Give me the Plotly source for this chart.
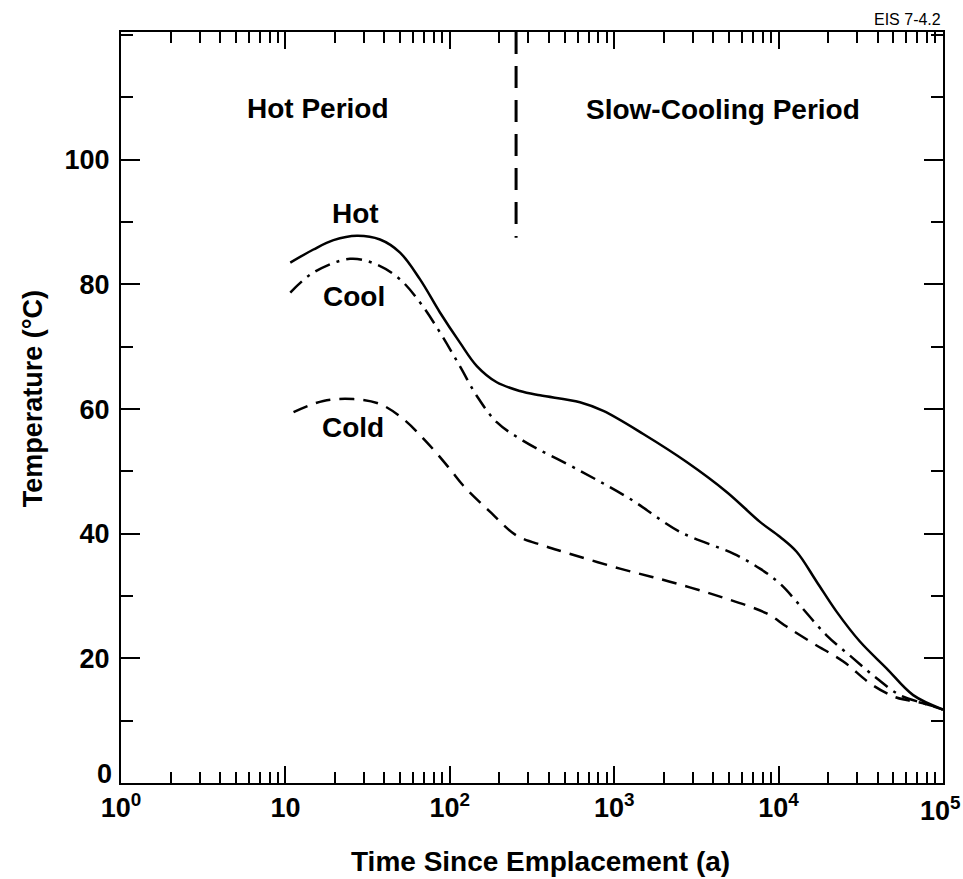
import math
import plotly.graph_objects as go

# ---- data ----
hot_t = [10.7, 14.8, 19.6, 27.2, 37.6, 49.8, 65.9, 87.1, 115, 146, 193, 267, 354, 619, 859,
         1503, 2761, 4831, 7709, 10190, 12880, 17060, 22540, 31260, 45390, 65920, 100000]
hot_T = [83.5, 85.6, 87.1, 87.8, 87.2, 85.1, 80.8, 75.5, 70.7, 66.9, 64.3, 62.9, 62.2, 61.1, 59.7,
         56.0, 51.5, 46.7, 41.9, 39.5, 37.1, 32.3, 27.5, 22.7, 18.4, 14.1, 11.8]

cool_t = [10.7, 14.8, 24.7, 35.9, 49.8, 65.9, 87.1, 115, 146, 193, 280, 619, 1247, 2512,
          5309, 7709, 10190, 13490, 19590, 28440, 39540, 54700, 75860, 100000]
cool_T = [78.7, 81.9, 84.1, 83.2, 80.8, 77.1, 72.3, 66.9, 62.1, 57.9, 54.9, 50.1, 45.6, 40.3,
          36.8, 34.4, 32.0, 28.5, 23.7, 20.0, 16.8, 14.1, 12.8, 11.8]

cold_t = [11.2, 17.0, 25.9, 37.6, 52.1, 72.3, 100, 121, 176, 255, 371, 490, 1084, 2183, 4406,
          8472, 11190, 16250, 24770, 35970, 49890, 60120, 75860, 100000]
cold_T = [59.5, 61.3, 61.6, 60.8, 58.4, 54.7, 50.4, 47.7, 43.5, 39.7, 38.1, 37.1, 34.4, 32.3, 29.9,
          27.2, 25.1, 22.4, 19.5, 16.0, 13.9, 13.3, 12.8, 11.8]

boundary_t = [253, 253]
boundary_T = [120.5, 87.5]

x_tickvals = [1, 10, 100, 1000, 10000, 100000]
x_ticktext = ["10<sup>0</sup>", "10", "10<sup>2</sup>", "10<sup>3</sup>", "10<sup>4</sup>", "10<sup>5</sup>"]
y_tickvals = [0, 20, 40, 60, 80, 100]
y_ticktext = ["0", "20", "40", "60", "80", "100"]

FONT = "Liberation Sans"
BOLD = dict(family=FONT, size=27, color="black", weight="bold")

fig = go.Figure()
fig.add_trace(go.Scatter(x=hot_t, y=hot_T, mode="lines", line=dict(color="black", width=2.5, shape="spline")))
fig.add_trace(go.Scatter(x=cool_t, y=cool_T, mode="lines",
                         line=dict(color="black", width=2.5, shape="spline", dash="16px,7px,3px,7px")))
fig.add_trace(go.Scatter(x=cold_t, y=cold_T, mode="lines",
                         line=dict(color="black", width=2.5, shape="spline", dash="15px,9px")))
fig.add_trace(go.Scatter(x=boundary_t, y=boundary_T, mode="lines",
                         line=dict(color="black", width=3, dash="22px,12px")))

def ann(x, y, text, size=28, **kw):
    fig.add_annotation(x=x, y=y, text=text, showarrow=False,
                       font=dict(family=FONT, size=size, color="black", weight="bold"), **kw)

ann(math.log10(26.5), 91.3, "Hot")
ann(math.log10(26.3), 78.0, "Cool")
ann(math.log10(25.7), 57.0, "Cold")
ann(math.log10(15.7), 108.3, "Hot Period")
ann(math.log10(4624), 108.0, "Slow-Cooling Period")

# tick labels drawn as annotations where the axis would shift/hide them
xt_shown = x_ticktext[:-1] + [""]
fig.add_annotation(x=math.log10(x_tickvals[-1]), xref="x", yref="paper", y=0.0, yshift=-26,
                   text=x_ticktext[-1], showarrow=False, xanchor="right", yanchor="middle",
                   xshift=20, font=BOLD)
yt_shown = [""] + y_ticktext[1:]
fig.add_annotation(xref="paper", yref="paper", x=-0.009, y=0.0, text=y_ticktext[0], showarrow=False,
                   xanchor="right", yanchor="bottom", yshift=-8, font=BOLD)

fig.add_annotation(xref="paper", yref="paper", x=0.51, y=-0.105, text="Time Since Emplacement (a)",
                   showarrow=False, yanchor="middle",
                   font=dict(family=FONT, size=28, color="black", weight="bold"))
fig.add_annotation(xref="paper", yref="paper", x=-0.107, y=0.511, text="Temperature (°C)",
                   showarrow=False, textangle=-90, xanchor="center", yanchor="middle",
                   font=dict(family=FONT, size=27, color="black", weight="bold"))
fig.add_annotation(xref="paper", yref="paper", x=1.0, y=1.017, text="EIS 7-4.2",
                   showarrow=False, xanchor="right", yanchor="middle",
                   font=dict(family=FONT, size=16, color="black"))

fig.update_layout(
    width=963, height=879,
    margin=dict(l=121, r=20, t=32, b=96),
    paper_bgcolor="white", plot_bgcolor="white",
    showlegend=False,
    xaxis=dict(type="log", range=[-0.0005, 5.0005], tickmode="array", tickvals=x_tickvals, ticktext=xt_shown,
               showline=True, linecolor="black", linewidth=2, mirror="ticks",
               ticks="inside", ticklen=17, tickwidth=2, tickcolor="black",
               showgrid=False, zeroline=False, tickfont=BOLD,
               minor=dict(ticks="inside", ticklen=11, tickwidth=1.5, tickcolor="black", dtick="D1",
                          showgrid=False)),
    yaxis=dict(range=[0, 120.5], tickmode="array", tickvals=y_tickvals, ticktext=yt_shown,
               showline=True, linecolor="black", linewidth=2, mirror="ticks",
               ticks="inside", ticklen=19, tickwidth=2, tickcolor="black",
               showgrid=False, zeroline=False, ticklabelstandoff=4, tickfont=BOLD,
               minor=dict(ticks="inside", ticklen=12, tickwidth=2, tickcolor="black",
                          tickmode="linear", tick0=0, dtick=10, showgrid=False)),
)

fig.write_html("out.html")
